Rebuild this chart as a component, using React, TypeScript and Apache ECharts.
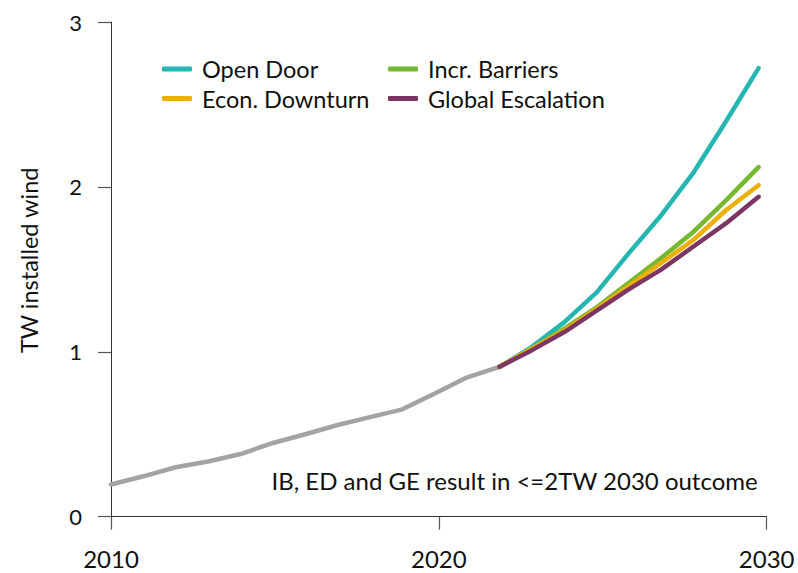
import React, { useEffect, useRef } from "react";
import * as echarts from "echarts";

const historyYears = [2010, 2011, 2012, 2013, 2014, 2015, 2016, 2017, 2018, 2019, 2020, 2021, 2022];
const historyValues = [0.195, 0.245, 0.3, 0.335, 0.38, 0.447, 0.5, 0.556, 0.604, 0.651, 0.747, 0.845, 0.909];

const scenarioYears = [2022, 2023, 2024, 2025, 2026, 2027, 2028, 2029, 2030];
const openDoor = [0.909, 1.03, 1.18, 1.36, 1.6, 1.83, 2.09, 2.4, 2.72];
const incrBarriers = [0.909, 1.02, 1.14, 1.27, 1.42, 1.57, 1.73, 1.92, 2.12];
const econDownturn = [0.909, 1.02, 1.13, 1.26, 1.4, 1.54, 1.68, 1.86, 2.01];
const globalEscalation = [0.909, 1.01, 1.12, 1.25, 1.38, 1.5, 1.64, 1.78, 1.94];

const xTicks = [2010, 2020, 2030];
const yTicks = [0, 1, 2, 3];
const annotation = "IB, ED and GE result in <=2TW 2030 outcome";
const yName = "TW installed wind";

const FONT = "Lato";

const pairs = (xs: number[], ys: number[]) => xs.map((x, i) => [x, ys[i]]);

export default function App() {
  const ref = useRef<HTMLDivElement>(null);
  useEffect(() => {
    document.body.style.margin = "0";
    const chart = echarts.init(ref.current!, null, { renderer: "svg" });
    const lineSeries = (name: string, color: string, data: number[][], z: number) => ({
      name,
      type: "line",
      xAxisIndex: 1,
      data,
      showSymbol: false,
      symbol: "none",
      z,
      lineStyle: { color, width: 4.5, cap: "round", join: "round" },
      itemStyle: { color },
    });
    const legendCommon = {
      orient: "vertical",
      top: 52,
      itemWidth: 30,
      itemHeight: 5,
      itemGap: 5.5,
      icon: "roundRect",
      selectedMode: false,
      textStyle: { fontFamily: FONT, fontSize: 23.5, color: "#111", padding: [0, 0, 0, 5] },
    };
    chart.setOption({
      animation: false,
      textStyle: { fontFamily: FONT },
      grid: { left: 111, right: 31.3, top: 22, bottom: 56.3 },
      legend: [
        { ...legendCommon, left: 157, data: ["Open Door", "Econ. Downturn"] },
        { ...legendCommon, left: 383, data: ["Incr. Barriers", "Global Escalation"] },
      ],
      xAxis: [
        {
          type: "value",
          min: xTicks[0],
          max: xTicks[xTicks.length - 1],
          interval: 10,
          splitLine: { show: false },
          axisLine: { show: true, lineStyle: { color: "#333", width: 1 } },
          axisTick: { show: true, length: 13, lineStyle: { color: "#555", width: 1.2 } },
          axisLabel: { fontFamily: FONT, fontSize: 24, color: "#111", margin: 30, formatter: (v: number) => String(v) },
        },
        {
          type: "value",
          min: 2010,
          max: 2030.25,
          show: false,
          splitLine: { show: false },
        },
      ],
      yAxis: {
        type: "value",
        min: yTicks[0],
        max: yTicks[yTicks.length - 1],
        interval: 1,
        name: yName,
        nameLocation: "middle",
        nameGap: 70,
        nameTextStyle: { fontFamily: FONT, fontSize: 23.5, color: "#111", padding: [0, 0, 0, 18] },
        splitLine: { show: false },
        axisLine: { show: true, lineStyle: { color: "#333", width: 1 } },
        axisTick: { show: true, length: 13, lineStyle: { color: "#555", width: 1.2 } },
        axisLabel: { fontFamily: FONT, fontSize: 22, color: "#111", margin: 29 },
      },
      graphic: [
        {
          type: "text",
          right: 40,
          top: 468,
          style: { text: annotation, fontFamily: FONT, fontSize: 24, fill: "#111" },
        },
      ],
      series: [
        {
          name: "History",
          type: "line",
          xAxisIndex: 1,
          data: pairs(historyYears, historyValues),
          showSymbol: false,
          symbol: "none",
          z: 1,
          lineStyle: { color: "#a3a3a3", width: 4.5, cap: "round", join: "round" },
        },
        lineSeries("Open Door", "#26b6b2", pairs(scenarioYears, openDoor), 2),
        lineSeries("Incr. Barriers", "#76b82f", pairs(scenarioYears, incrBarriers), 3),
        lineSeries("Econ. Downturn", "#ebb00b", pairs(scenarioYears, econDownturn), 4),
        lineSeries("Global Escalation", "#7c3663", pairs(scenarioYears, globalEscalation), 5),
      ],
    });
    return () => chart.dispose();
  }, []);
  return <div ref={ref} style={{ width: 798, height: 573 }} />;
}
